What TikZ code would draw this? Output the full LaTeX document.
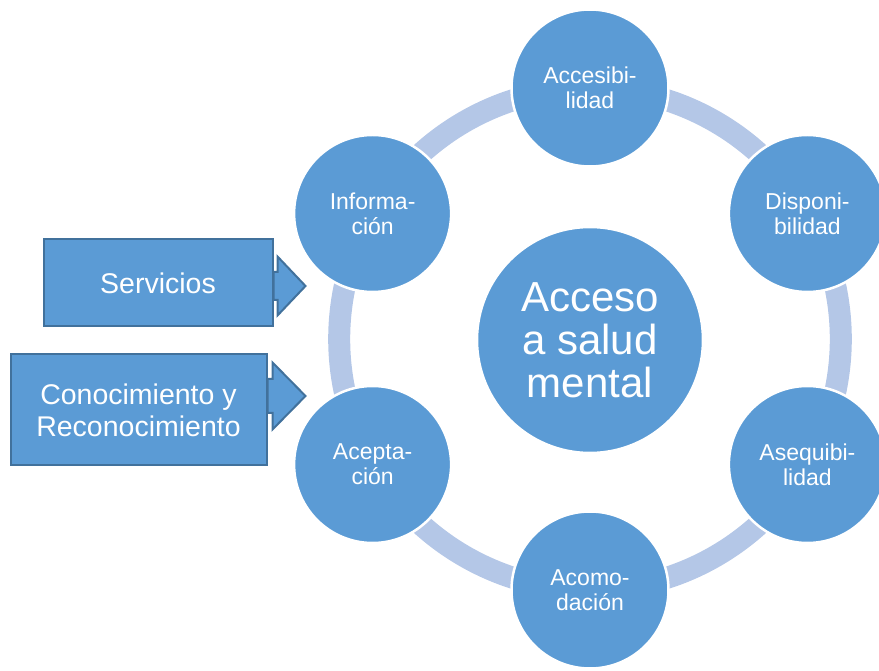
\documentclass[tikz,border=0pt]{standalone}
\usepackage{fontspec}
\setmainfont{Liberation Sans}
\usetikzlibrary{backgrounds}
\definecolor{disc}{HTML}{5B9BD5}
\definecolor{ring}{HTML}{B4C7E7}
\definecolor{frame}{HTML}{41719C}
\tikzset{disc/.style={circle,fill=disc,draw=white,line width=2.5pt,text=white,align=center,inner sep=0pt,minimum size=157pt,font=\fontsize{23}{25}\selectfont}}
\tikzset{hub/.style={disc,minimum size=226pt,font=\fontsize{42}{43}\selectfont}}
\tikzset{ring/.style={draw=ring,line width=22pt,bend left=30,looseness=0.91}}
\tikzset{factor/.style={rectangle,fill=disc,draw=frame,line width=2pt,text=white,align=center,font=\fontsize{28.5}{32}\selectfont}}
\tikzset{pointer/.style={fill=disc,draw=frame,line width=2pt,line join=miter}}

\begin{document}
\begin{tikzpicture}[x=1pt,y=1pt]
    \useasboundingbox (0,0) rectangle (879,670);

    \node[hub] (hub) at (590,330) {Acceso\\a salud\\mental};

    \node[disc] (acc) at (590,582) {Accesibi-\\lidad};
    \node[disc] (disp) at (807.4,456.5) {Disponi-\\bilidad};
    \node[disc] (aseq) at (807.4,205.5) {Asequibi-\\lidad};
    \node[disc] (acom) at (590,80) {Acomo-\\dación};
    \node[disc] (acep) at (372.6,205.5) {Acepta-\\ción};
    \node[disc] (info) at (372.6,456.5) {Informa-\\ción};

    \begin{scope}[on background layer]
    \draw[ring] (acc.center) to (disp.center);
    \draw[ring] (disp.center) to (aseq.center);
    \draw[ring] (aseq.center) to (acom.center);
    \draw[ring] (acom.center) to (acep.center);
    \draw[ring] (acep.center) to (info.center);
    \draw[ring] (info.center) to (acc.center);
    \end{scope}

    \node[factor,minimum width=229pt,minimum height=87pt] (serv) at (158,387) {Servicios};
    \node[factor,minimum width=256pt,minimum height=111pt] (conoc) at (138.5,260) {Conocimiento y\\Reconocimiento};

    \draw[pointer] ([yshift=11pt]serv.east) -- ++(4,0) -- ++(0,15.5) -- ++(28,-29.5) -- ++(-28,-29.5) -- ++(0,15.5) -- ++(-4,0) -- cycle;
    \draw[pointer] ([yshift=31pt]conoc.east) -- ++(5,0) -- ++(0,16.5) -- ++(33,-33.5) -- ++(-33,-33.5) -- ++(0,16.5) -- ++(-5,0) -- cycle;
\end{tikzpicture}
\end{document}
